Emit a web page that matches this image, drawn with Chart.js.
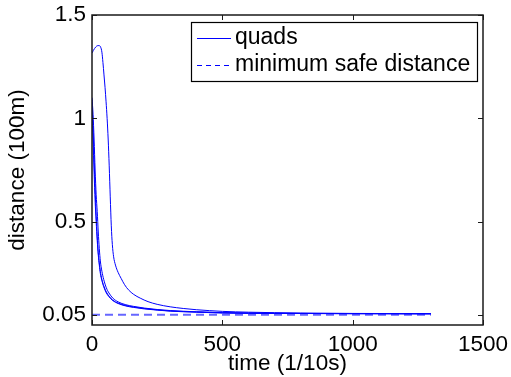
<!DOCTYPE html>
<html>
<head>
<meta charset="utf-8">
<script src="https://cdn.jsdelivr.net/npm/chart.js@4.4.0/dist/chart.umd.min.js"></script>
<style>
html,body{margin:0;padding:0;background:#fff;}
#wrap{width:511px;height:377px;position:relative;}
</style>
</head>
<body>
<div id="wrap"><canvas id="c" width="511" height="377"></canvas></div>
<script>
// ---- data ----
const legendLabels = ["quads", "minimum safe distance"];
const xTickValues = [0, 500, 1000, 1500];
const xTickLabels = ["0", "500", "1000", "1500"];
const yTickValues = [0.05, 0.5, 1, 1.5];
const yTickLabels = ["0.05", "0.5", "1", "1.5"];

const tTall = [0,5,10,15,20,27,33,38,42,46,50,54,58,62,66,70,74,78,83,90,100,112,125,140,160,185,215,250,300,350,400,500,600,800,1000,1300];
const quadTall = [1.316,1.328,1.338,1.346,1.351,1.352,1.345,1.32,1.27,1.21,1.15,1.08,1.0,0.9,0.77,0.62,0.48,0.39,0.33,0.29,0.255,0.225,0.195,0.17,0.148,0.13,0.113,0.1,0.088,0.08,0.074,0.066,0.062,0.058,0.056,0.055];

const tBundle = [0,4,8,12,16,20,24,28,32,38,45,55,65,80,100,130,160,200,250,300,400,500,700,1000,1300];
const quadA = [1.10,1.02,0.90,0.75,0.63,0.55,0.45,0.37,0.31,0.26,0.22,0.18,0.155,0.13,0.112,0.098,0.09,0.082,0.075,0.07,0.064,0.06,0.057,0.055,0.055];
const quadB = [1.09,0.95,0.80,0.66,0.53,0.43,0.35,0.30,0.26,0.22,0.19,0.16,0.14,0.12,0.106,0.094,0.087,0.08,0.073,0.068,0.063,0.059,0.056,0.055,0.054];
const quadC = [1.05,0.90,0.74,0.60,0.50,0.41,0.34,0.29,0.25,0.215,0.185,0.155,0.137,0.118,0.104,0.092,0.085,0.078,0.072,0.067,0.062,0.058,0.056,0.055,0.054];

const tSafe = [0, 1300];
const safeDist = [0.05, 0.05];

const FONT = "'Liberation Sans', Arial, Helvetica, sans-serif";
const FS = 22.5;

function pts(xs, ys){ return xs.map((x,i)=>({x:x, y:ys[i]})); }

function quadDs(xs, ys){
  return {label: legendLabels[0], data: pts(xs, ys), borderColor:'#0000ff', borderWidth:1,
    pointRadius:0, fill:false, cubicInterpolationMode:'monotone'};
}

const frame = {
  id:'frame',
  afterDatasetsDraw(chart){
    const {ctx, chartArea:a, scales:{x, y}} = chart;
    ctx.save();
    ctx.strokeStyle = '#1a1a1a';
    ctx.lineWidth = 1.5;
    ctx.strokeRect(a.left, a.top, a.right - a.left, a.bottom - a.top);
    ctx.lineWidth = 1;
    const L = 5;
    ctx.beginPath();
    xTickValues.forEach(v=>{
      const px = Math.round(x.getPixelForValue(v)) + 0.5;
      ctx.moveTo(px, a.bottom); ctx.lineTo(px, a.bottom - L);
      ctx.moveTo(px, a.top); ctx.lineTo(px, a.top + L);
    });
    yTickValues.forEach(v=>{
      const py = Math.round(y.getPixelForValue(v)) + 0.5;
      ctx.moveTo(a.left, py); ctx.lineTo(a.left + L, py);
      ctx.moveTo(a.right, py); ctx.lineTo(a.right - L, py);
    });
    ctx.stroke();

    // legend box
    const bx = 191, by = 22, bw = 286, bh = 59;
    ctx.fillStyle = '#fff';
    ctx.fillRect(bx, by, bw, bh);
    ctx.strokeStyle = '#000';
    ctx.lineWidth = 1.2;
    ctx.strokeRect(bx + 0.5, by + 0.5, bw, bh);
    const rows = [{y: 38, dash: []}, {y: 65, dash: [5, 4]}];
    rows.forEach((r, i)=>{
      ctx.beginPath();
      ctx.setLineDash(r.dash);
      ctx.strokeStyle = '#0000ff';
      ctx.lineWidth = 1;
      ctx.moveTo(197, r.y + 0.5); ctx.lineTo(231, r.y + 0.5);
      ctx.stroke();
      ctx.setLineDash([]);
      ctx.fillStyle = '#000';
      ctx.font = '23px ' + FONT;
      ctx.textBaseline = 'middle';
      ctx.textAlign = 'left';
      ctx.fillText(legendLabels[i], 235, r.y);
    });
    ctx.restore();
  }
};

new Chart(document.getElementById('c'), {
  type: 'line',
  data: {
    datasets: [
      quadDs(tTall, quadTall),
      quadDs(tBundle, quadA),
      quadDs(tBundle, quadB),
      quadDs(tBundle, quadC),
      {label: legendLabels[1], data: pts(tSafe, safeDist), borderColor:'rgba(0,0,255,0.6)', borderWidth:2,
        borderDash:[8,5], pointRadius:0, fill:false}
    ]
  },
  options: {
    responsive:false, animation:false,
    layout:{padding:{top:15, right:28, left:0, bottom:0}},
    plugins:{legend:{display:false}, tooltip:{enabled:false}},
    scales:{
      x:{type:'linear', min:0, max:1500,
        grid:{display:false, drawTicks:false, tickLength:0}, border:{display:false},
        afterBuildTicks(s){ s.ticks = xTickValues.map(v=>({value:v})); },
        afterFit(s){ s.height = 52; s.paddingLeft = 0; s.paddingRight = 0; },
        ticks:{color:'#000', font:{family:FONT, size:FS}, padding:6, maxRotation:0, autoSkip:false,
          callback(v){ const i = xTickValues.indexOf(v); return i >= 0 ? xTickLabels[i] : ''; }},
        title:{display:true, text:'time (1/10s)', color:'#000', font:{family:FONT, size:FS}, padding:{top:0,bottom:0}}
      },
      y:{type:'linear', min:0, max:1.5,
        grid:{display:false, drawTicks:false, tickLength:0}, border:{display:false},
        afterBuildTicks(s){ s.ticks = yTickValues.map(v=>({value:v})); },
        afterFit(s){ s.width = 92; s.paddingTop = 0; s.paddingBottom = 0; },
        ticks:{color:'#000', font:{family:FONT, size:FS}, padding:6, autoSkip:false,
          callback(v){ const i = yTickValues.indexOf(v); return i >= 0 ? yTickLabels[i] : ''; }},
        title:{display:true, text:'distance (100m)', color:'#000', font:{family:FONT, size:FS}, padding:{top:4,bottom:0}}
      }
    }
  },
  plugins:[frame]
});
</script>
</body>
</html>
